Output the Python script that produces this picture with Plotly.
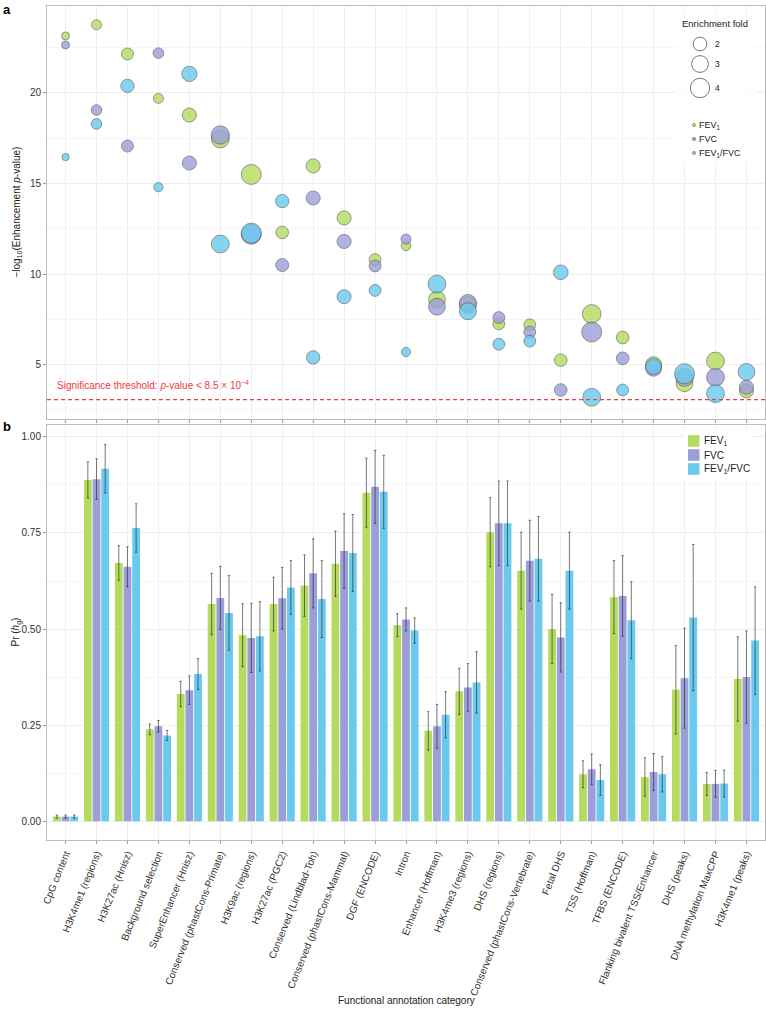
import numpy as np
import plotly.graph_objects as go

# ---------------- data ----------------
categories = ["CpG content", "H3K4me1 (regions)", "H3K27ac (Hnisz)", "Background selection",
              "SuperEnhancer (Hnisz)", "Conserved (phastCons-Primate)", "H3K9ac (regions)",
              "H3K27ac (PGC2)", "Conserved (Lindblad-Toh)", "Conserved (phastCons-Mammal)",
              "DGF (ENCODE)", "Intron", "Enhancer (Hoffman)", "H3K4me3 (regions)", "DHS (regions)",
              "Conserved (phastCons-Vertebrate)", "Fetal DHS", "TSS (Hoffman)", "TFBS (ENCODE)",
              "Flanking bivalent TSS/Enhancer", "DHS (peaks)", "DNA methylation MaxCPP",
              "H3K4me1 (peaks)"]
series_names = ["FEV<sub>1</sub>", "FVC", "FEV<sub>1</sub>/FVC"]

# panel a : -log10(enrichment p-value)
logp_fev1 = [23.15, 23.76, 22.15, 19.7, 18.78, 17.46, 15.5, 12.3, 15.97, 13.1, 10.8, 11.55,
             8.6, 8.3, 7.25, 7.2, 5.25, 7.8, 6.5, 5.0, 3.97, 5.2, 3.55]
logp_fvc = [22.65, 19.06, 17.07, 22.2, 16.13, 17.68, 12.2, 10.5, 14.2, 11.8, 10.45, 11.93,
            8.2, 8.4, 7.6, 6.8, 3.6, 6.8, 5.35, 4.8, 4.3, 4.3, 3.75]
logp_ratio = [16.46, 18.29, 20.39, 14.8, 21.05, 11.66, 12.26, 14.03, 5.4, 8.75, 9.1, 5.7,
              9.45, 7.95, 6.13, 6.3, 10.1, 3.2, 3.6, 4.9, 4.5, 3.4, 4.6]

# panel a : enrichment fold
fold_fev1 = [0.68, 1.06, 1.53, 1.06, 2.1, 3.4, 4.25, 1.7, 2.1, 2.1, 1.5, 0.96, 3.0, 3.1,
             1.5, 1.5, 1.7, 3.7, 1.7, 2.7, 3.0, 3.4, 2.1]
fold_fvc = [0.68, 1.2, 1.53, 1.2, 2.1, 3.6, 4.25, 1.8, 2.1, 2.1, 1.5, 1.06, 3.0, 3.1,
            1.5, 1.5, 1.7, 4.25, 1.7, 2.7, 3.4, 3.4, 2.1]
fold_ratio = [0.57, 1.2, 1.9, 0.92, 2.5, 3.4, 4.25, 1.9, 1.9, 2.1, 1.5, 0.92, 3.4, 3.1,
              1.5, 1.5, 2.3, 3.4, 1.5, 2.7, 4.25, 3.4, 3.0]
legend_folds = [2, 3, 4]
sig_p = 8.5e-4

# panel b : Pr(h_g)
pr_fev1 = [0.012, 0.888, 0.672, 0.239, 0.331, 0.565, 0.484, 0.565, 0.613, 0.670, 0.855, 0.510,
           0.235, 0.338, 0.752, 0.652, 0.500, 0.122, 0.583, 0.115, 0.342, 0.097, 0.370]
pr_fvc = [0.012, 0.890, 0.662, 0.247, 0.341, 0.581, 0.477, 0.580, 0.645, 0.703, 0.870, 0.525,
          0.247, 0.348, 0.775, 0.678, 0.478, 0.135, 0.586, 0.128, 0.372, 0.097, 0.375]
pr_ratio = [0.012, 0.917, 0.763, 0.223, 0.383, 0.542, 0.481, 0.608, 0.578, 0.698, 0.857, 0.496,
            0.277, 0.361, 0.775, 0.683, 0.652, 0.107, 0.523, 0.122, 0.530, 0.098, 0.470]
err_fev1 = [0.004, 0.047, 0.045, 0.014, 0.033, 0.080, 0.082, 0.070, 0.080, 0.085, 0.090, 0.030,
            0.050, 0.060, 0.090, 0.100, 0.090, 0.035, 0.095, 0.050, 0.115, 0.030, 0.110]
err_fvc = [0.004, 0.053, 0.052, 0.015, 0.037, 0.082, 0.090, 0.080, 0.090, 0.097, 0.095, 0.030,
           0.057, 0.062, 0.110, 0.105, 0.090, 0.040, 0.105, 0.048, 0.130, 0.035, 0.120]
err_ratio = [0.004, 0.063, 0.063, 0.013, 0.040, 0.097, 0.090, 0.070, 0.100, 0.100, 0.095, 0.033,
             0.060, 0.080, 0.110, 0.110, 0.100, 0.040, 0.100, 0.046, 0.190, 0.035, 0.140]

# ---------------- styling ----------------
colors = ["#B4DB5E", "#9C9EDA", "#6ACAEE"]
W, H = 766, 1009
L, R, T, B = 47, 1, 6, 169
PW, PH = W - L - R, H - T - B
FONT = "Liberation Sans, Arial, sans-serif"
RED = "#EE3B42"


def px(x):
    return (x - L) / PW


def py(y):
    return 1 - (y - T) / PH


def diam(f):
    return 9.7 * np.sqrt(np.asarray(f, dtype=float))


xi = list(range(len(categories)))
fig = go.Figure()

for name, lp, fd, c in zip(series_names, [logp_fev1, logp_fvc, logp_ratio],
                           [fold_fev1, fold_fvc, fold_ratio], colors):
    fig.add_trace(go.Scatter(
        x=xi, y=lp, mode="markers", name=name, showlegend=False,
        xaxis="x", yaxis="y", hoverinfo="skip",
        marker=dict(size=diam(fd), color=c, opacity=0.8,
                    line=dict(color="#505050", width=0.7))))

for name, v, e, c in zip(series_names, [pr_fev1, pr_fvc, pr_ratio],
                         [err_fev1, err_fvc, err_ratio], colors):
    fig.add_trace(go.Bar(
        x=xi, y=v, name=name, showlegend=False, xaxis="x2", yaxis="y2", hoverinfo="skip",
        marker=dict(color=c, line=dict(width=0)),
        error_y=dict(type="data", array=e, color="rgba(30,30,30,0.75)",
                     thickness=0.8, width=1.2)))

thr = -np.log10(sig_p)
dom_a = [py(419), 1]
dom_b = [0, py(425)]

axis_common = dict(showline=True, mirror=True, linecolor="#BDBDBD", linewidth=1,
                   ticks="outside", ticklen=3, tickcolor="#9a9a9a", gridcolor="#EBEBEB",
                   gridwidth=0.8, zeroline=False,
                   tickfont=dict(family=FONT, size=10, color="#333333"))

fig.update_layout(
    width=W, height=H, margin=dict(l=L, r=R, t=T, b=B),
    paper_bgcolor="white", plot_bgcolor="white",
    font=dict(family=FONT, size=10, color="#222"),
    barmode="group", bargap=0.16, bargroupgap=0.1,
    xaxis=dict(axis_common, domain=[0, 1], anchor="y", range=[-0.6, len(categories) - 0.4],
               tickvals=xi, showticklabels=False, showgrid=True),
    yaxis=dict(axis_common, domain=dom_a, anchor="x", range=[2.0, 24.8],
               tickvals=[5, 10, 15, 20],
               minor=dict(dtick=2.5, tick0=0, showgrid=True, gridcolor="#F2F2F2", ticks="")),
    xaxis2=dict(axis_common, domain=[0, 1], anchor="y2", range=[-0.6, len(categories) - 0.4],
                tickvals=xi, ticktext=categories, tickangle=-68, showgrid=True),
    yaxis2=dict(axis_common, domain=dom_b, anchor="x2", range=[-0.049, 1.031],
                tickvals=[0, 0.25, 0.5, 0.75, 1.0], tickformat=".2f",
                minor=dict(dtick=0.125, tick0=0, showgrid=True, gridcolor="#F2F2F2", ticks="")),
)

shapes = []
annotations = []

# significance line
shapes.append(dict(type="line", xref="x domain", yref="y", x0=0, x1=1, y0=thr, y1=thr,
                   line=dict(color=RED, width=1.2, dash="4px,3px")))
annotations.append(dict(xref="paper", yref="y", x=px(55), y=thr + 0.35, xanchor="left",
                        yanchor="bottom", showarrow=False,
                        text="Significance threshold: <i>p</i>-value < 8.5 × 10<sup>−4</sup>",
                        font=dict(family=FONT, size=10, color=RED)))

# panel letters
annotations.append(dict(xref="paper", yref="paper", x=px(1), y=py(0), xanchor="left",
                        yanchor="top", showarrow=False, text="<b>a</b>",
                        font=dict(family=FONT, size=13, color="#000")))
annotations.append(dict(xref="paper", yref="paper", x=px(1), y=py(417), xanchor="left",
                        yanchor="top", showarrow=False, text="<b>b</b>",
                        font=dict(family=FONT, size=13, color="#000")))

# axis titles
annotations.append(dict(xref="paper", yref="paper", x=px(16), y=(dom_a[0] + dom_a[1]) / 2,
                        textangle=-90, showarrow=False, xanchor="center", yanchor="middle",
                        text="−log<sub>10</sub>(Enhancement <i>p</i>-value)",
                        font=dict(family=FONT, size=10, color="#222")))
annotations.append(dict(xref="paper", yref="paper", x=px(16), y=(dom_b[0] + dom_b[1]) / 2,
                        textangle=-90, showarrow=False, xanchor="center", yanchor="middle",
                        text="Pr (<i>h</i><sub>g</sub>)",
                        font=dict(family=FONT, size=10, color="#222")))
annotations.append(dict(xref="paper", yref="paper", x=0.5, y=py(1001), showarrow=False,
                        xanchor="center", yanchor="middle",
                        text="Functional annotation category",
                        font=dict(family=FONT, size=10, color="#222")))

# ---- panel a legend (manual) ----
shapes.append(dict(type="rect", xref="paper", yref="paper", x0=px(676), x1=px(756),
                   y0=py(164), y1=py(13), fillcolor="rgba(255,255,255,0.75)",
                   line=dict(width=0), layer="above"))
annotations.append(dict(xref="paper", yref="paper", x=px(715), y=py(24), showarrow=False,
                        xanchor="center", yanchor="middle", text="Enrichment fold",
                        font=dict(family=FONT, size=9.5, color="#222")))
leg_y = [44, 64, 88]
for f, yy in zip(legend_folds, leg_y):
    d = float(diam(f))
    shapes.append(dict(type="circle", xref="paper", yref="paper",
                       x0=px(700 - d / 2), x1=px(700 + d / 2),
                       y0=py(yy + d / 2), y1=py(yy - d / 2),
                       line=dict(color="#555", width=0.8), fillcolor="rgba(0,0,0,0)",
                       layer="above"))
    annotations.append(dict(xref="paper", yref="paper", x=px(713), y=py(yy), showarrow=False,
                            xanchor="left", yanchor="middle", text=str(f),
                            font=dict(family=FONT, size=8.5, color="#222")))
for name, c, yy in zip(series_names, colors, [125, 139, 153]):
    shapes.append(dict(type="circle", xref="paper", yref="paper",
                       x0=px(692.3), x1=px(695.7), y0=py(yy + 1.7), y1=py(yy - 1.7),
                       line=dict(color="#666", width=0.5), fillcolor=c, layer="above"))
    annotations.append(dict(xref="paper", yref="paper", x=px(697), y=py(yy), showarrow=False,
                            xanchor="left", yanchor="middle", text=name,
                            font=dict(family=FONT, size=9, color="#222")))

# ---- panel b legend (manual) ----
shapes.append(dict(type="rect", xref="paper", yref="paper", x0=px(684), x1=px(750),
                   y0=py(480), y1=py(430), fillcolor="white", line=dict(width=0),
                   layer="above"))
for name, c, yy in zip(series_names, colors, [441, 455, 469]):
    shapes.append(dict(type="rect", xref="paper", yref="paper",
                       x0=px(688), x1=px(699.5), y0=py(yy + 5.8), y1=py(yy - 5.8),
                       fillcolor=c, line=dict(width=0), layer="above"))
    annotations.append(dict(xref="paper", yref="paper", x=px(702), y=py(yy), showarrow=False,
                            xanchor="left", yanchor="middle", text=name,
                            font=dict(family=FONT, size=10, color="#222")))

fig.update_layout(shapes=shapes, annotations=annotations)
fig.write_html("out.html", config={"displayModeBar": False, "staticPlot": True},
               post_script="document.body.style.margin='0px';document.body.style.overflow='hidden';")
